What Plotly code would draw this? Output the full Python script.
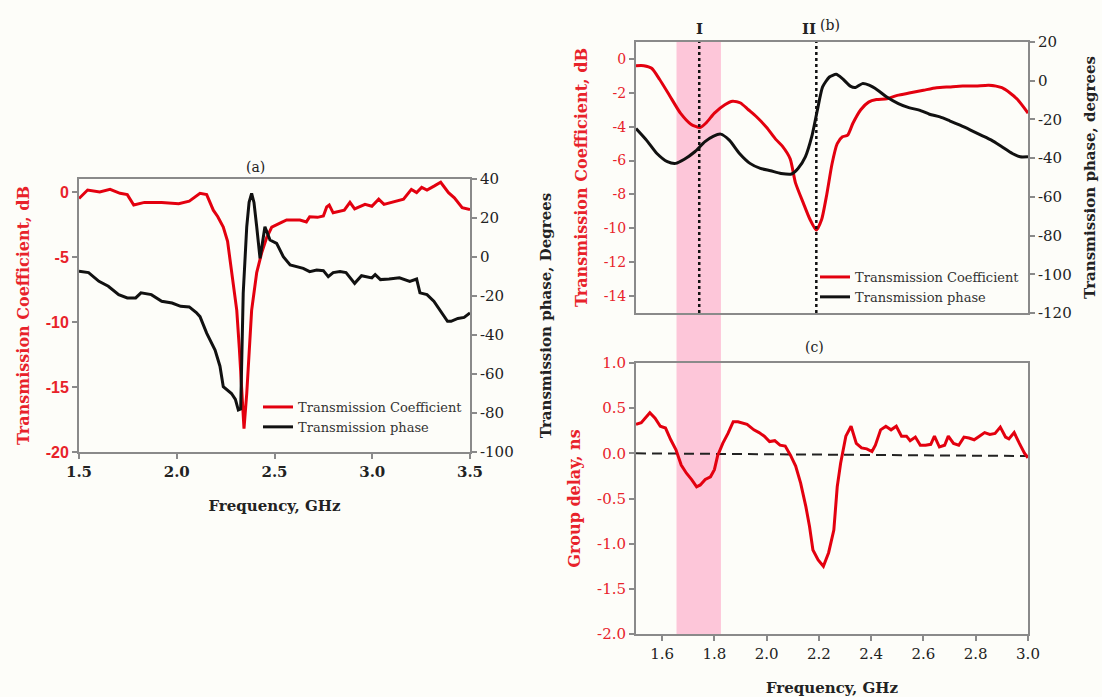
import plotly.graph_objects as go

# ---------------- (a) wide sweep ----------------
freq_a_tc = [1.50, 1.544, 1.606, 1.659, 1.71, 1.747, 1.78, 1.835, 1.923, 2.01, 2.064,
             2.119, 2.153, 2.17, 2.187, 2.21, 2.238, 2.26, 2.281, 2.295, 2.307, 2.32,
             2.332, 2.344, 2.358, 2.37, 2.383, 2.409, 2.434, 2.46, 2.486, 2.528, 2.562,
             2.63, 2.663, 2.68, 2.72, 2.75, 2.767, 2.78, 2.80, 2.857, 2.886, 2.91, 2.963,
             2.998, 3.033, 3.06, 3.12, 3.16, 3.20, 3.227, 3.253, 3.28, 3.316, 3.35,
             3.39, 3.42, 3.46, 3.50]
tc_a = [-0.5, 0.15, 0.0, 0.2, -0.1, -0.2, -1.0, -0.8, -0.8, -0.9, -0.7,
        -0.1, -0.2, -0.8, -1.4, -1.9, -2.7, -3.8, -6.0, -7.5, -9.1, -12.0,
        -15.5, -18.2, -15.5, -12.0, -9.1, -6.2, -4.7, -3.5, -2.7, -2.4, -2.15,
        -2.15, -2.3, -1.9, -1.95, -1.85, -1.15, -1.0, -1.6, -1.4, -0.8, -1.3, -0.95,
        -1.1, -0.55, -0.95, -0.7, -0.55, 0.2, -0.05, 0.35, 0.15, 0.45, 0.75,
        -0.05, -0.45, -1.2, -1.35]

freq_a_ph = [1.50, 1.549, 1.602, 1.65, 1.703, 1.747, 1.79, 1.817, 1.87, 1.923, 1.976,
             2.02, 2.064, 2.10, 2.119, 2.153, 2.196, 2.221, 2.238, 2.255, 2.28, 2.30,
             2.315, 2.327, 2.34, 2.358, 2.37, 2.383, 2.395, 2.409, 2.426, 2.451, 2.477,
             2.511, 2.545, 2.58, 2.62, 2.647, 2.68, 2.716, 2.75, 2.775, 2.80, 2.835,
             2.866, 2.91, 2.945, 2.998, 3.015, 3.042, 3.086, 3.139, 3.192, 3.227,
             3.244, 3.28, 3.315, 3.35, 3.385, 3.403, 3.438, 3.47, 3.50]
ph_a = [-7.3, -8.0, -12.5, -15.0, -19.3, -21.0, -21.0, -18.4, -19.3, -22.7, -23.6,
        -25.3, -25.6, -28.5, -30.6, -39.0, -47.7, -56.0, -66.5, -68.0, -70.0, -73.0,
        -78.5, -78.0, -18.6, 15.5, 28.0, 32.6, 28.0, 15.5, -0.7, 15.5, 8.7,
        7.0, 0.2, -4.1, -5.0, -5.8, -7.5, -6.7, -7.0, -10.1, -8.0, -7.5,
        -8.0, -13.5, -9.6, -10.7, -9.0, -11.6, -11.3, -10.7, -12.5, -11.3,
        -18.4, -19.3, -22.7, -28.0, -33.0, -33.0, -31.5, -31.0, -28.7]

# ---------------- (b) narrow sweep ----------------
freq_b_tc = [1.50, 1.53, 1.56, 1.59, 1.63, 1.67, 1.71, 1.745, 1.77, 1.80, 1.84, 1.87,
             1.90, 1.93, 1.96, 2.00, 2.035, 2.06, 2.09, 2.11, 2.14, 2.165, 2.19, 2.21,
             2.23, 2.25, 2.27, 2.29, 2.31, 2.33, 2.36, 2.39, 2.42, 2.46, 2.50, 2.55,
             2.60, 2.65, 2.70, 2.75, 2.80, 2.85, 2.90, 2.93, 2.96, 3.00]
tc_b = [-0.4, -0.4, -0.55, -1.2, -2.2, -3.2, -3.85, -4.05, -3.75, -3.2, -2.7, -2.5,
        -2.6, -3.0, -3.4, -4.05, -4.75, -5.15, -5.9, -7.3, -8.5, -9.45, -10.1, -9.5,
        -8.0, -6.2, -5.0, -4.6, -4.5, -3.8, -3.0, -2.55, -2.4, -2.35, -2.15, -2.0,
        -1.85, -1.7, -1.65, -1.6, -1.6, -1.55, -1.7, -2.0, -2.4, -3.2]

freq_b_ph = [1.50, 1.54, 1.58, 1.62, 1.652, 1.685, 1.725, 1.764, 1.797, 1.824, 1.857,
             1.896, 1.936, 1.976, 2.015, 2.055, 2.095, 2.12, 2.148, 2.174, 2.194,
             2.214, 2.24, 2.266, 2.29, 2.32, 2.34, 2.366, 2.392, 2.425, 2.458, 2.504,
             2.544, 2.584, 2.623, 2.663, 2.70, 2.74, 2.78, 2.82, 2.86, 2.90, 2.94,
             2.97, 3.00]
ph_b = [-24.7, -30.7, -37.6, -41.8, -42.7, -40.6, -36.7, -31.5, -28.6, -27.6, -30.7,
        -37.6, -42.7, -45.3, -46.5, -47.9, -48.2, -45.3, -39.3, -28.1, -15.2,
        -3.2, 1.9, 3.3, 1.1, -2.8, -3.5, -1.5, -2.3, -4.9, -8.3, -11.8,
        -13.9, -15.2, -17.3, -18.7, -20.7, -23.0, -25.5, -28.1, -30.7, -34.1, -37.6,
        -39.3, -39.3]

# ---------------- (c) group delay ----------------
freq_c = [1.50, 1.52, 1.553, 1.573, 1.593, 1.613, 1.633, 1.653, 1.673, 1.693, 1.713,
          1.732, 1.746, 1.765, 1.785, 1.80, 1.812, 1.832, 1.852, 1.872, 1.89, 1.925,
          1.951, 1.971, 1.991, 2.011, 2.031, 2.051, 2.071, 2.091, 2.111, 2.13, 2.15,
          2.164, 2.177, 2.197, 2.217, 2.237, 2.257, 2.27, 2.283, 2.303, 2.323, 2.343,
          2.363, 2.383, 2.403, 2.416, 2.436, 2.456, 2.476, 2.496, 2.516, 2.535,
          2.549, 2.569, 2.588, 2.608, 2.628, 2.642, 2.661, 2.681, 2.695, 2.715,
          2.735, 2.755, 2.774, 2.794, 2.814, 2.834, 2.854, 2.874, 2.894, 2.914,
          2.927, 2.947, 2.967, 2.987, 3.00]
gd_c = [0.32, 0.34, 0.45, 0.39, 0.30, 0.28, 0.15, 0.04, -0.13, -0.22, -0.29,
        -0.37, -0.35, -0.29, -0.26, -0.18, -0.03, 0.11, 0.22, 0.35, 0.35, 0.32,
        0.26, 0.23, 0.19, 0.13, 0.14, 0.09, 0.08, -0.02, -0.14, -0.33, -0.59,
        -0.81, -1.07, -1.18, -1.25, -1.10, -0.85, -0.37, -0.11, 0.19, 0.30, 0.11,
        0.06, 0.05, 0.02, 0.09, 0.26, 0.30, 0.26, 0.30, 0.19, 0.19,
        0.14, 0.18, 0.09, 0.09, 0.10, 0.19, 0.07, 0.09, 0.19, 0.11,
        0.09, 0.18, 0.17, 0.15, 0.19, 0.23, 0.21, 0.22, 0.29, 0.18,
        0.16, 0.23, 0.11, 0.00, -0.05]
zero_ref_x = [1.5, 3.0]
zero_ref_y = [0.0, -0.03]

# marked frequencies and highlighted band
marker_freqs = [1.742, 2.19]
marker_labels = ["I", "II"]
band_range = [1.655, 1.825]

# tick definitions
a_left_vals = [0, -5, -10, -15, -20]
a_left_text = ["0", "-5", "-10", "-15", "-20"]
a_right_vals = [40, 20, 0, -20, -40, -60, -80, -100]
a_right_text = ["40", "20", "0", "-20", "-40", "-60", "-80", "-100"]
a_x_vals = [1.5, 2.0, 2.5, 3.0, 3.5]
b_left_vals = [0, -2, -4, -6, -8, -10, -12, -14]
b_left_text = ["0", "-2", "-4", "-6", "-8", "-10", "-12", "-14"]
b_right_vals = [20, 0, -20, -40, -60, -80, -100, -120]
b_right_text = ["20", "0", "-20", "-40", "-60", "-80", "-100", "-120"]
c_left_vals = [1.0, 0.5, 0.0, -0.5, -1.0, -1.5, -2.0]
c_left_text = ["1.0", "0.5", "0.0", "-0.5", "-1.0", "-1.5", "-2.0"]
c_x_vals = [1.6, 1.8, 2.0, 2.2, 2.4, 2.6, 2.8, 3.0]

RED = "#e3000f"
RED_TXT = "#e8222a"
BLACK = "#111111"
AXIS = "#8a8a8a"
BG = "#fdfdf9"
SERIF = "DejaVu Serif"

W, H = 1102, 697


def px_x(p):
    return p / W


def px_y(p):
    return 1 - p / H


fig = go.Figure()

# (a)
fig.add_trace(go.Scatter(x=freq_a_tc, y=tc_a, mode="lines", name="Transmission Coefficient",
                         line=dict(color=RED, width=3), xaxis="x", yaxis="y", legend="legend"))
fig.add_trace(go.Scatter(x=freq_a_ph, y=ph_a, mode="lines", name="Transmission phase",
                         line=dict(color=BLACK, width=3), xaxis="x", yaxis="y2", legend="legend"))

# (b)
fig.add_trace(go.Scatter(x=freq_b_tc, y=tc_b, mode="lines", name="Transmission Coefficient",
                         line=dict(color=RED, width=3, shape="spline", smoothing=0.6),
                         xaxis="x2", yaxis="y3", legend="legend2"))
fig.add_trace(go.Scatter(x=freq_b_ph, y=ph_b, mode="lines", name="Transmission phase",
                         line=dict(color=BLACK, width=3, shape="spline", smoothing=0.6),
                         xaxis="x2", yaxis="y4", legend="legend2"))
for f in marker_freqs:
    fig.add_trace(go.Scatter(x=[f, f], y=[-15, 1], mode="lines", showlegend=False,
                             line=dict(color=BLACK, width=2.5, dash="dot"),
                             xaxis="x2", yaxis="y3", cliponaxis=False))

# (c)
fig.add_trace(go.Scatter(x=zero_ref_x, y=zero_ref_y, mode="lines", showlegend=False,
                         line=dict(color="#222222", width=2, dash="10px,6px"),
                         xaxis="x3", yaxis="y5"))
fig.add_trace(go.Scatter(x=freq_c, y=gd_c, mode="lines", showlegend=False,
                         line=dict(color=RED, width=3), xaxis="x3", yaxis="y5"))

# highlighted band crossing panels (b) and (c)
fig.add_shape(type="rect", xref="x3", yref="paper",
              x0=band_range[0], x1=band_range[1], y0=px_y(634), y1=px_y(42),
              fillcolor="#fdc6d9", line=dict(width=0), layer="below")

tick_common = dict(ticks="outside", ticklen=5, tickcolor=AXIS, tickwidth=1.5,
                   showgrid=False, zeroline=False, showline=True, linecolor=AXIS,
                   linewidth=2)

dom_a_x = [px_x(79), px_x(470)]
dom_a_y = [px_y(452), px_y(179)]
dom_bc_x = [px_x(636), px_x(1028)]
dom_b_y = [px_y(313), px_y(42)]
dom_c_y = [px_y(634), px_y(363)]

fig.update_layout(
    width=W, height=H,
    margin=dict(l=0, r=0, t=0, b=0, autoexpand=False),
    paper_bgcolor=BG, plot_bgcolor="rgba(0,0,0,0)",
    font=dict(family=SERIF, color=BLACK),
    xaxis=dict(domain=dom_a_x, range=[1.5, 3.5], anchor="y", mirror=True,
               tickvals=a_x_vals, tickformat=".1f",
               tickfont=dict(size=15, color="#222", weight="bold"),
               title=dict(text="Frequency, GHz", font=dict(size=15, weight="bold", color="#222"),
                          standoff=20),
               **tick_common),
    yaxis=dict(domain=dom_a_y, range=[-20, 1], anchor="x",
               tickvals=a_left_vals, ticktext=a_left_text,
               tickfont=dict(family="Liberation Sans", size=16, color=RED_TXT, weight="bold"),
               title=dict(text="Transmission Coefficient, dB",
                          font=dict(size=16, weight="bold", color=RED_TXT), standoff=12),
               **tick_common),
    yaxis2=dict(range=[-100, 40], overlaying="y", side="right", anchor="x",
                tickvals=a_right_vals, ticktext=a_right_text,
                tickfont=dict(size=15, color="#222"),
                title=dict(text="Transmission phase, Degrees",
                           font=dict(size=15, weight="bold", color="#222"), standoff=28),
                **tick_common),
    xaxis2=dict(domain=dom_bc_x, range=[1.5, 3.0], anchor="y3", mirror=True,
                showticklabels=False, showgrid=False, zeroline=False, showline=True,
                linecolor=AXIS, linewidth=2, ticks=""),
    yaxis3=dict(domain=dom_b_y, range=[-15, 1], anchor="x2",
                tickvals=b_left_vals, ticktext=b_left_text,
                tickfont=dict(size=14, color=RED_TXT),
                title=dict(text="Transmission Coefficient, dB",
                           font=dict(size=16, weight="bold", color=RED_TXT), standoff=12),
                **tick_common),
    yaxis4=dict(range=[-120, 20], overlaying="y3", side="right", anchor="x2",
                tickvals=b_right_vals, ticktext=b_right_text,
                tickfont=dict(size=15, color="#222"),
                title=dict(text="Transmission phase, degrees",
                           font=dict(size=15, weight="bold", color="#222"), standoff=14),
                **tick_common),
    xaxis3=dict(domain=dom_bc_x, range=[1.5, 3.0], anchor="y5", mirror=True,
                tickvals=c_x_vals, tickformat=".1f",
                tickfont=dict(size=15, color="#222"),
                title=dict(text="Frequency, GHz", font=dict(size=15, weight="bold", color="#222"),
                           standoff=20),
                **tick_common),
    yaxis5=dict(domain=dom_c_y, range=[-2.0, 1.0], anchor="x3", mirror=True,
                tickvals=c_left_vals, ticktext=c_left_text,
                tickfont=dict(size=15, color=RED_TXT),
                title=dict(text="Group delay, ns", font=dict(size=16, weight="bold", color=RED_TXT),
                           standoff=12),
                **tick_common),
    legend=dict(x=px_x(258), y=px_y(392), xanchor="left", yanchor="top",
                bgcolor="rgba(0,0,0,0)", font=dict(size=13, color="#333"),
                itemwidth=30, tracegroupgap=0),
    legend2=dict(x=px_x(815), y=px_y(262), xanchor="left", yanchor="top",
                 bgcolor="rgba(0,0,0,0)", font=dict(size=13, color="#333"),
                 itemwidth=30, tracegroupgap=0),
    showlegend=True,
)

# panel letters and marker labels
panel_labels = [("(a)", 244, 157), ("(b)", 842, 15), ("(c)", 826, 347)]
for txt, x, y in panel_labels:
    fig.add_annotation(text=txt, x=px_x(x), y=px_y(y), xref="paper", yref="paper",
                       showarrow=False, font=dict(size=14, color="#222"))
label_shift = [0, -7]
for f, lab, dx in zip(marker_freqs, marker_labels, label_shift):
    fig.add_annotation(text=lab, x=f, y=px_y(18), xref="x2", yref="paper", xshift=dx,
                       showarrow=False, font=dict(size=15, color="#222", weight="bold"))

fig.write_html("out.html")
